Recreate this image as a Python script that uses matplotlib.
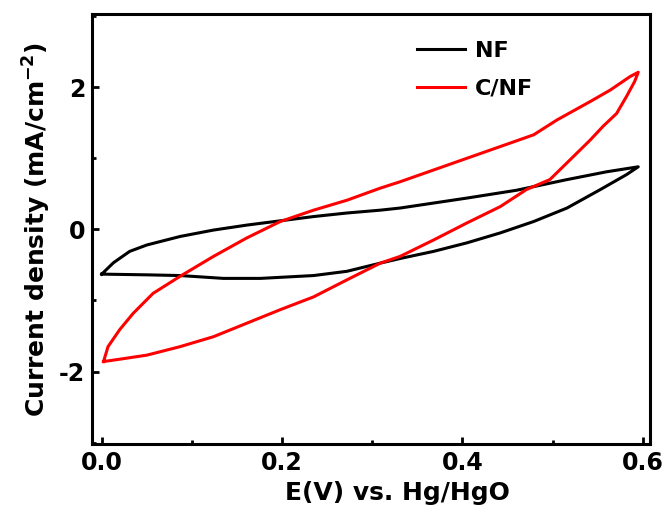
import matplotlib
matplotlib.use("Agg")
import matplotlib.pyplot as plt
from matplotlib.ticker import MultipleLocator, FormatStrFormatter, FuncFormatter

plt.rcParams['font.family'] = ['DejaVu Sans']
plt.rcParams['font.weight'] = 'bold'
plt.rcParams['mathtext.fontset'] = 'custom'
plt.rcParams['mathtext.rm'] = 'DejaVu Sans:bold'
plt.rcParams['mathtext.bf'] = 'DejaVu Sans:bold'
plt.rcParams['mathtext.it'] = 'DejaVu Sans:bold'
plt.rcParams['axes.unicode_minus'] = False

# NF cyclic voltammogram (anodic sweep then cathodic sweep)
nf_v = [0.000, 0.013, 0.031, 0.050, 0.087, 0.124, 0.161, 0.198, 0.235, 0.272, 0.309,
        0.331, 0.405, 0.460, 0.516, 0.560, 0.595,
        0.582, 0.553, 0.516, 0.479, 0.442, 0.405, 0.368, 0.331, 0.309, 0.272,
        0.235, 0.176, 0.135, 0.087, 0.050, 0.000]
nf_j = [-0.63, -0.47, -0.31, -0.22, -0.10, -0.01, 0.06, 0.12, 0.18, 0.23, 0.27,
        0.30, 0.44, 0.55, 0.70, 0.81, 0.88,
        0.77, 0.56, 0.30, 0.11, -0.05, -0.19, -0.31, -0.41, -0.475, -0.59,
        -0.65, -0.69, -0.69, -0.65, -0.64, -0.63]

# C/NF cyclic voltammogram
cnf_v = [0.002, 0.007, 0.020, 0.035, 0.057, 0.087, 0.124, 0.161, 0.198, 0.235, 0.272,
         0.309, 0.331, 0.405, 0.479, 0.505, 0.542, 0.564, 0.586, 0.595,
         0.591, 0.582, 0.571, 0.556, 0.542, 0.534, 0.497, 0.471, 0.442, 0.405,
         0.368, 0.331, 0.309, 0.272, 0.235, 0.198, 0.161, 0.124, 0.087, 0.050,
         0.013, 0.002]
cnf_j = [-1.86, -1.65, -1.41, -1.18, -0.90, -0.66, -0.38, -0.12, 0.11, 0.27, 0.41,
         0.58, 0.67, 1.00, 1.33, 1.54, 1.80, 1.96, 2.15, 2.21,
         2.08, 1.87, 1.63, 1.45, 1.26, 1.16, 0.70, 0.56, 0.32, 0.09,
         -0.15, -0.38, -0.475, -0.71, -0.95, -1.13, -1.32, -1.51, -1.65, -1.77,
         -1.84, -1.86]

labels = ["NF", "C/NF"]
colors = ["black", "#ff0000"]

fig = plt.figure(figsize=(6.68, 5.12), dpi=100)
ax = fig.add_axes([0.1377, 0.1328, 0.8353, 0.8399])

ax.plot(nf_v, nf_j, color=colors[0], lw=2.2, label=labels[0])
ax.plot(cnf_v, cnf_j, color=colors[1], lw=2.2, label=labels[1])

ax.set_xlim(-0.0108, 0.608)
ax.set_ylim(-3.02, 3.03)
ax.xaxis.set_major_locator(MultipleLocator(0.2))
ax.xaxis.set_minor_locator(MultipleLocator(0.1))
ax.yaxis.set_major_locator(MultipleLocator(2))
ax.yaxis.set_minor_locator(MultipleLocator(1))
ax.xaxis.set_major_formatter(FormatStrFormatter('%.1f'))
ax.yaxis.set_major_formatter(FuncFormatter(lambda v, p: '%d' % round(v)))

ax.tick_params(which='both', direction='in', top=False, right=False,
               labelsize=17, width=2.0, pad=5)
ax.tick_params(which='major', length=5)
ax.tick_params(which='minor', length=3)
for s in ax.spines.values():
    s.set_linewidth(2.2)

ax.set_xlabel("E(V) vs. Hg/HgO", fontsize=18, fontweight='bold')
ax.xaxis.set_label_coords(0.548, -0.085)
ax.set_ylabel(r"Current density (mA/cm$^{-2}$)", fontsize=18, fontweight='bold', labelpad=4)

leg = ax.legend(loc='upper left', bbox_to_anchor=(417 / 668, 1 - 41 / 512),
                bbox_transform=fig.transFigure, frameon=False, borderpad=0,
                borderaxespad=0, fontsize=16, handlelength=2.16,
                handletextpad=0.45, labelspacing=0.8)
for t in leg.get_texts():
    t.set_fontweight('bold')

fig.savefig("out.png", dpi=100)
